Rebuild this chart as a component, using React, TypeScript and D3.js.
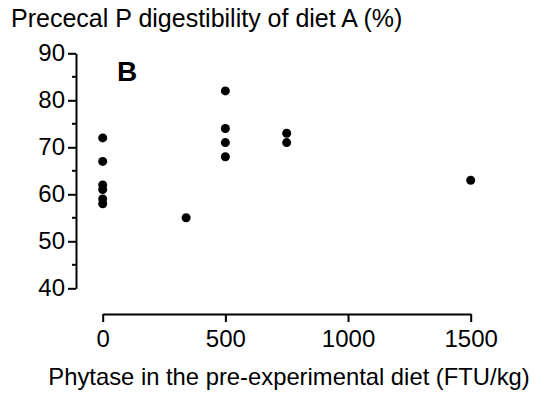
import React, { useEffect, useRef } from 'react'
import * as d3 from 'd3'

// phytase level in the pre-experimental diet (FTU/kg)
const phytase = [0, 0, 0, 0, 0, 0, 340, 500, 500, 500, 500, 750, 750, 1500]
// prececal P digestibility of diet A (%)
const digestibility = [72, 67, 62, 61, 59, 58, 55, 82, 74, 71, 68, 73, 71, 63]

const xTicks = [0, 500, 1000, 1500]
const yTicks = [40, 50, 60, 70, 80, 90]
const yMinor = [45, 55, 65, 75, 85]

const font = 'Arial, "Liberation Sans", sans-serif'

const App = () => {
    const ref = useRef<SVGSVGElement>(null)

    useEffect(() => {
        const svg = d3.select(ref.current)
        svg.selectAll('*').remove()

        const x = d3.scaleLinear().domain([0, 1500]).range([102.7, 470.7])
        const y = d3.scaleLinear().domain([40, 90]).range([288.3, 53.3])

        // y axis, detached to the left
        const yAxis = svg.append('g')
            .attr('transform', 'translate(76,0)')
            .call(d3.axisLeft(y).tickValues(yTicks).tickSize(8).tickSizeOuter(0).tickPadding(3).tickFormat(d3.format('d')))
        yAxis.selectAll('text').style('font-size', '24px').style('font-family', font).attr('fill', '#000')
        yAxis.selectAll('path, line').attr('stroke', '#000').attr('stroke-width', 2)

        svg.append('g')
            .attr('transform', 'translate(76,0)')
            .selectAll('line')
            .data(yMinor)
            .enter().append('line')
            .attr('x1', -4).attr('x2', 0)
            .attr('y1', d => y(d)).attr('y2', d => y(d))
            .attr('stroke', '#000').attr('stroke-width', 2)

        // x axis, detached below
        const xAxis = svg.append('g')
            .attr('transform', 'translate(0,314)')
            .call(d3.axisBottom(x).tickValues(xTicks).tickSize(8).tickSizeOuter(0).tickPadding(8).tickFormat(d3.format('d')))
        xAxis.selectAll('text').style('font-size', '24px').style('font-family', font).attr('fill', '#000')
        xAxis.selectAll('path, line').attr('stroke', '#000').attr('stroke-width', 2)

        svg.append('g')
            .selectAll('circle')
            .data(phytase.map((p, i) => ({ p, v: digestibility[i] })))
            .enter().append('circle')
            .attr('cx', d => x(d.p))
            .attr('cy', d => y(d.v))
            .attr('r', 4.5)
            .attr('fill', '#000')

        svg.append('text')
            .attr('x', 11)
            .attr('y', 27)
            .style('font-family', font)
            .style('font-size', '25px')
            .text('Prececal P digestibility of diet A (%)')

        svg.append('text')
            .attr('x', 117)
            .attr('y', 81)
            .style('font-family', font)
            .style('font-size', '28px')
            .style('font-weight', 'bold')
            .text('B')

        svg.append('text')
            .attr('x', 289)
            .attr('y', 385)
            .attr('text-anchor', 'middle')
            .style('font-family', font)
            .style('font-size', '23.8px')
            .text('Phytase in the pre-experimental diet (FTU/kg)')
    }, [])

    return (
        <div style={{ position: 'absolute', left: 0, top: 0 }}>
            <svg ref={ref} width={535} height={394} style={{ display: 'block', background: '#fff' }} />
        </div>
    )
}

export default App
